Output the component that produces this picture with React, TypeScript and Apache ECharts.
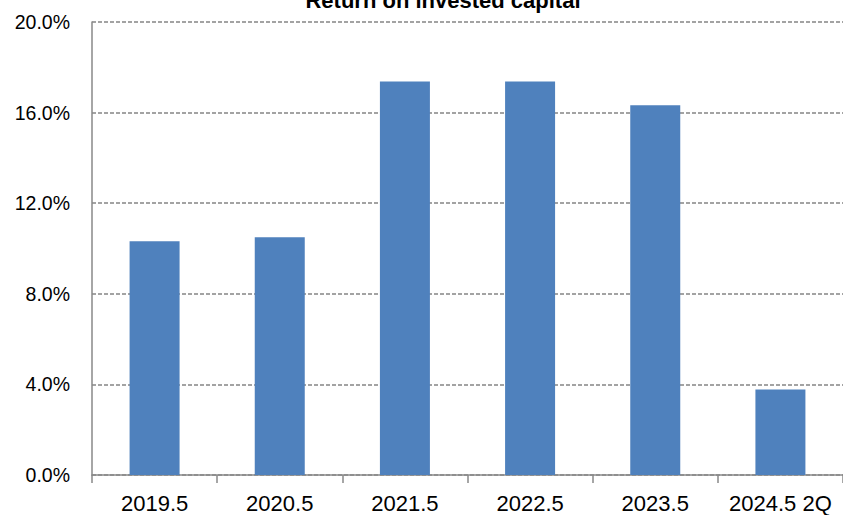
import React, { useEffect, useRef } from "react";
import * as echarts from "echarts";

const categories = ["2019.5", "2020.5", "2021.5", "2022.5", "2023.5", "2024.5 2Q"];
const roicValues = [10.32, 10.5, 17.37, 17.37, 16.32, 3.78];
const yTicks = [0, 4, 8, 12, 16, 20];
const titleText = "Return on invested capital";

const FONT = "'Liberation Sans', Arial, sans-serif";

export default function App() {
  const ref = useRef<HTMLDivElement>(null);
  useEffect(() => {
    if (!ref.current) return;
    const chart = echarts.init(ref.current, undefined, { renderer: "svg" });
    chart.setOption({
      animation: false,
      backgroundColor: "#ffffff",
      textStyle: { fontFamily: FONT },
      graphic: [
        {
          type: "text",
          x: 443,
          y: 0,
          style: {
            text: titleText,
            fontSize: 22,
            fontWeight: "bold",
            fontFamily: FONT,
            fill: "#000",
            align: "center",
            verticalAlign: "middle",
          },
        },
      ],
      grid: { left: 92, top: 22, width: 756, bottom: 40, containLabel: false },
      xAxis: {
        type: "category",
        data: categories,
        axisLine: { show: true, lineStyle: { color: "#898989", width: 1.5 } },
        axisTick: { show: true, alignWithLabel: false, length: 8, lineStyle: { color: "#898989", width: 1.5 } },
        axisLabel: { fontSize: 22, color: "#000", margin: 17, fontFamily: FONT, interval: 0 },
        splitLine: { show: false },
      },
      yAxis: {
        type: "value",
        min: yTicks[0],
        max: yTicks[yTicks.length - 1],
        interval: yTicks[1] - yTicks[0],
        axisLine: { show: true, lineStyle: { color: "#898989", width: 1.5 } },
        axisTick: { show: false },
        axisLabel: {
          fontSize: 19.5,
          color: "#000",
          margin: 22,
          fontFamily: FONT,
          formatter: (v: number) => v.toFixed(1) + "%",
        },
        splitLine: { show: true, lineStyle: { color: "#858585", width: 1.5, type: [4, 2] } },
      },
      series: [
        {
          type: "bar",
          data: roicValues,
          barWidth: 50,
          itemStyle: { color: "#4f81bd" },
        },
      ],
    });
    return () => chart.dispose();
  }, []);
  return (
    <div
      ref={ref}
      style={{ position: "absolute", left: 0, top: 0, width: 843, height: 515 }}
    />
  );
}
